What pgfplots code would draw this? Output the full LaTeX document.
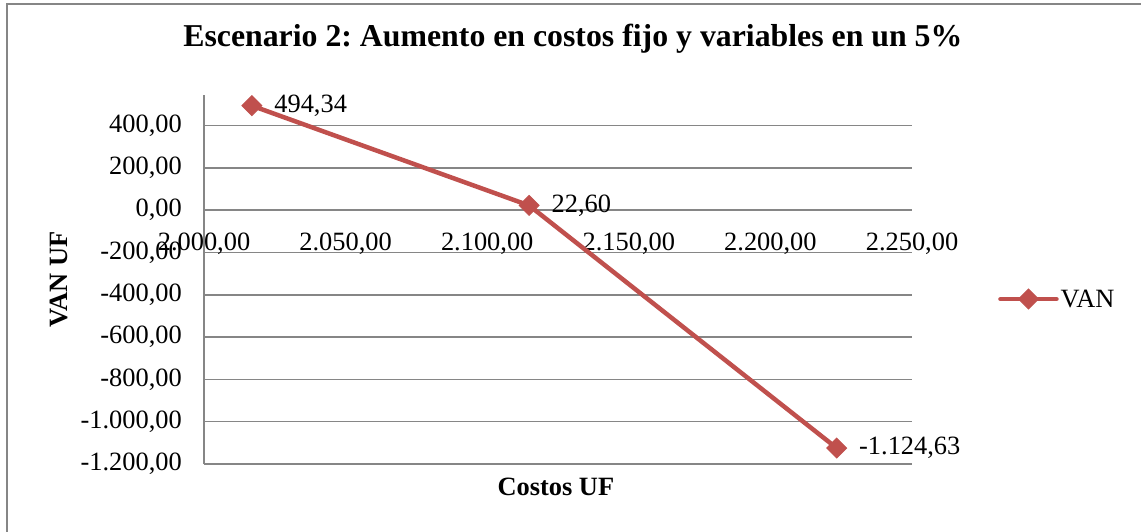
\documentclass[border=0pt]{standalone}
\usepackage{pgfplots}
\pgfplotsset{compat=1.18}
\usepackage{fontspec}
\setmainfont{Liberation Serif}
\frenchspacing
\definecolor{exred}{RGB}{192,80,77}
\definecolor{exgrid}{RGB}{134,134,134}
\begin{document}
\begin{tikzpicture}[x=1bp,y=1bp]
\useasboundingbox (0,0) rectangle (1141,-532);
\draw[exgrid, line width=1.5bp] (7,-532) -- (7,-4) -- (1141,-4);
\begin{axis}[
  at={(204bp,-464bp)}, anchor=south west,
  scale only axis, width=708bp, height=369bp,
  xmin=2000, xmax=2250, ymin=-1200, ymax=545,
  xtick={2000,2050,...,2250},
  ytick={-1200,-1000,...,400},
  xticklabels={2.000{,}00,2.050{,}00,2.100{,}00,2.150{,}00,2.200{,}00,2.250{,}00},
  yticklabels={-1.200{,}00,-1.000{,}00,-800{,}00,-600{,}00,-400{,}00,-200{,}00,0{,}00,200{,}00,400{,}00},
  axis y line*=left, axis x line*=bottom,
  x axis line style={draw=none},
  y axis line style={exgrid, line width=1.5bp, -},
  major tick length=0pt,
  ymajorgrids, grid style={exgrid, line width=1.5bp},
  clip=false,
  tick label style={font=\fontsize{26.4bp}{30bp}\selectfont, inner sep=0pt},
  yticklabel style={anchor=east, xshift=-22bp},
  xticklabel style={anchor=north, yshift=231bp},
  title={Escenario 2: Aumento en costos fijo y variables en un 5\%},
  title style={font=\bfseries\fontsize{31.8bp}{36bp}\selectfont, at={(axis description cs:0.521,1.114)}, anchor=base, inner sep=0pt},
  xlabel={Costos UF},
  xlabel style={font=\bfseries\fontsize{26.4bp}{30bp}\selectfont, at={(axis description cs:0.497,-0.084)}, anchor=base, inner sep=0pt},
  ylabel={VAN UF},
  ylabel style={font=\bfseries\fontsize{26.4bp}{30bp}\selectfont, at={(axis description cs:-0.1935,0.5)}, anchor=base, rotate=0, inner sep=0pt},
  legend style={draw=none, fill=none, at={(axis description cs:1.1215,0.447)}, anchor=west, inner sep=0pt, font=\fontsize{26.4bp}{30bp}\selectfont},
  legend image code/.code={\draw[#1, line cap=round] plot coordinates {(0bp,0bp) (28bp,0bp) (56bp,0bp)};},
  legend image post style={mark repeat=2, mark phase=2},
]
\addplot[exred, line width=4.5bp, mark=square*, mark size=7bp,
  mark options={solid, rotate=45, line width=1bp, fill=exred},
  point meta=explicit symbolic,
  nodes near coords,
  nodes near coords style={anchor=west, xshift=22bp, inner sep=0pt, black, font=\fontsize{26.4bp}{30bp}\selectfont}]
  table[meta=lab] {
x y lab
2016.9 494.34 494{,}34
2114.8 22.60 22{,}60
2223.4 -1124.63 -1.124{,}63
};
\addlegendentry{VAN}
\end{axis}
\end{tikzpicture}
\end{document}
